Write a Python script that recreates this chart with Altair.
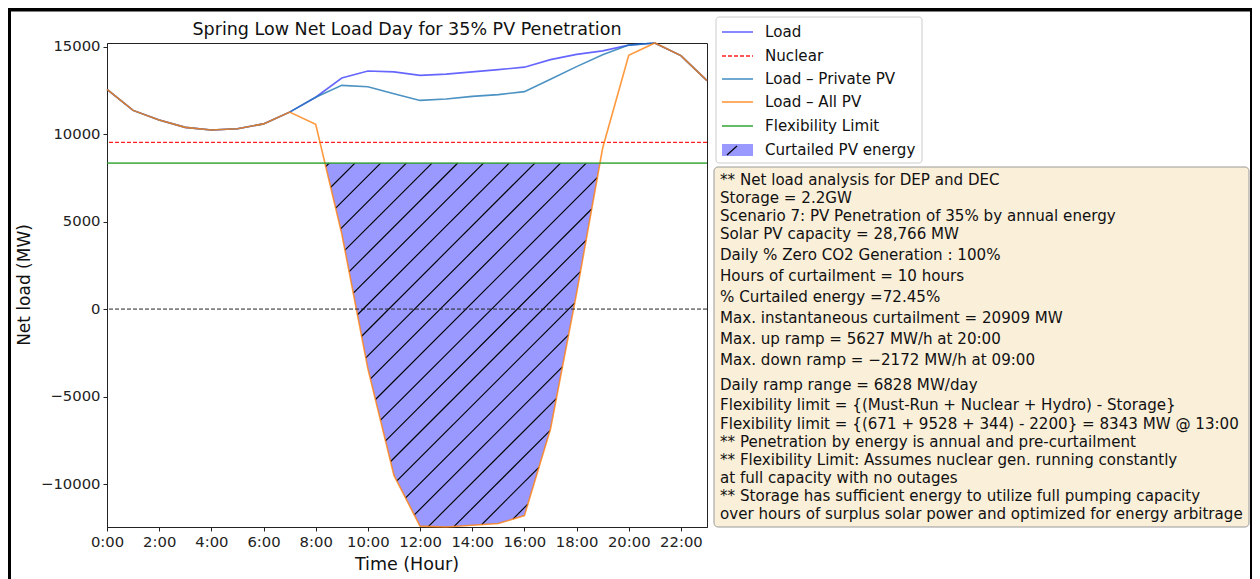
import altair as alt
import numpy as np
import pandas as pd

# ---------------- data ----------------
hours = list(range(24))
load = [12550, 11350, 10800, 10380, 10230, 10300, 10580, 11250, 12100, 13200, 13600, 13550,
        13350, 13420, 13550, 13680, 13820, 14250, 14550, 14750, 15080, 15200, 14480, 13050]
load_private_pv = [12550, 11350, 10800, 10380, 10230, 10300, 10580, 11250, 12100, 12780, 12700, 12300,
                   11920, 12000, 12150, 12250, 12420, 13130, 13850, 14530, 15080, 15200, 14480, 13050]
load_all_pv = [12550, 11350, 10800, 10380, 10230, 10300, 10580, 11250, 10560, 4300, -3400, -9500,
               -12400, -12450, -12350, -12250, -11800, -6850, 900, 9200, 14500, 15200, 14480, 13050]
nuclear_mw = 9528
flex_limit_mw = 8343

x_ticks = list(range(0, 24, 2))
y_ticks = [-10000, -5000, 0, 5000, 10000, 15000]

chart_title = "Spring Low Net Load Day for 35% PV Penetration"
x_title = "Time (Hour)"
y_title = "Net load (MW)"
legend_labels = ["Load", "Nuclear", "Load \u2013 Private PV", "Load \u2013 All PV",
                 "Flexibility Limit", "Curtailed PV energy"]
info_lines = [
    "** Net load analysis for DEP and DEC",
    "Storage = 2.2GW",
    "Scenario 7: PV Penetration of 35% by annual energy",
    "Solar PV capacity = 28,766 MW",
    "Daily % Zero CO2 Generation : 100%",
    "Hours of curtailment = 10 hours",
    "% Curtailed energy =72.45%",
    "Max. instantaneous curtailment =  20909 MW",
    "Max. up ramp = 5627 MW/h at 20:00",
    "Max. down ramp = \u22122172 MW/h at 09:00",
    "Daily ramp range = 6828 MW/day",
    "Flexibility limit = {(Must-Run + Nuclear + Hydro) - Storage}",
    "Flexibility limit = {(671 + 9528 + 344) - 2200} = 8343 MW @ 13:00",
    "** Penetration by energy is annual and pre-curtailment",
    "** Flexibility Limit: Assumes nuclear gen. running constantly",
    "at full capacity with no outages",
    "** Storage has sufficient energy to utilize full pumping capacity",
    "\u00a0over hours of surplus solar power and optimized for energy arbitrage",
]

# ---------------- layout / style ----------------
W, H = 600, 484
FONT = "DejaVu Sans"
C_LOAD, C_PRIV, C_ALL, C_FLEX, C_NUC = "#0000ff", "#1f77b4", "#ff7f0e", "#2ca02c", "#ff2020"
FILL = "#9999ff"
HATCH_C0, HATCH_STEP = 368.0, 25.7
info_y = [137, 155, 173, 191, 212, 233, 254, 275, 296, 317, 342, 362, 381, 399, 417, 435, 453, 471]
legend_y = [-11, 13, 36, 59, 83, 107]
TXT = 15.1

y_lo, y_hi = min(load_all_pv), max(load)
sx = W / 23.0
sy = H / (y_hi - y_lo)

xs = alt.Scale(domain=[0, 23], nice=False, zero=False)
ys = alt.Scale(domain=[y_lo, y_hi], nice=False, zero=False)

df = pd.DataFrame({"h": hours, "load": load, "priv": load_private_pv, "all": load_all_pv})

# curtailed region (orange below flexibility limit)
def crossing(i0, i1):
    a, b = load_all_pv[i0], load_all_pv[i1]
    return hours[i0] + (a - flex_limit_mw) / (a - b) * (hours[i1] - hours[i0])

below = [i for i, v in enumerate(load_all_pv) if v < flex_limit_mw]
c1 = crossing(below[0] - 1, below[0])
c2 = crossing(below[-1], below[-1] + 1)
fill_h = [c1] + [hours[i] for i in below] + [c2]
fill_v = [flex_limit_mw] + [load_all_pv[i] for i in below] + [flex_limit_mw]
df_fill = pd.DataFrame({"h": fill_h, "v": fill_v, "top": flex_limit_mw})

# hatch lines clipped to the curtailed region
hs = np.linspace(c1, c2, 8001)
ov = np.interp(hs, hours, load_all_pv)
rows = []
for k in range(-80, 80):
    c = HATCH_C0 + k * HATCH_STEP
    v = y_hi - (c - hs * sx) / sy
    inside = (v >= ov) & (v <= flex_limit_mw)
    if not inside.any():
        continue
    idx = np.flatnonzero(inside)
    br = np.flatnonzero(np.diff(idx) > 1)
    starts = np.r_[idx[0], idx[br + 1]]
    ends = np.r_[idx[br], idx[-1]]
    for s, e in zip(starts, ends):
        if e > s:
            rows.append({"h1": hs[s], "v1": v[s], "h2": hs[e], "v2": v[e]})
df_hatch = pd.DataFrame(rows)

base = alt.Chart(df)

area = alt.Chart(df_fill).mark_area(color=FILL, opacity=1, interpolate="linear").encode(
    x=alt.X("h:Q", scale=xs, title=None,
            axis=alt.Axis(values=x_ticks, labelExpr="datum.value + ':00'", labelFlush=False)),
    y=alt.Y("v:Q", scale=ys, title=None,
            axis=alt.Axis(values=y_ticks, format="d", labelFlush=False,
                          labelExpr="replace(datum.label, '-', '\u2212')")),
    y2="top:Q",
)
hatch = alt.Chart(df_hatch).mark_rule(color="#000000", strokeWidth=1.15).encode(
    x=alt.X("h1:Q", scale=xs), x2="h2:Q",
    y=alt.Y("v1:Q", scale=ys), y2="v2:Q",
)

def line(field, color, opacity, width=1.6):
    return base.mark_line(color=color, strokeWidth=width, opacity=opacity).encode(
        x=alt.X("h:Q", scale=xs), y=alt.Y(f"{field}:Q", scale=ys))

hline_df = pd.DataFrame({"v": [nuclear_mw], "f": [flex_limit_mw], "z": [0]})
nuc = alt.Chart(hline_df).mark_rule(color=C_NUC, strokeWidth=1.3, strokeDash=[4, 2]).encode(
    y=alt.Y("v:Q", scale=ys))
flex = alt.Chart(hline_df).mark_rule(color=C_FLEX, strokeWidth=1.8, opacity=0.8).encode(
    y=alt.Y("f:Q", scale=ys))
zero = alt.Chart(hline_df).mark_rule(color="#222222", strokeWidth=1, strokeDash=[4, 2]).encode(
    y=alt.Y("z:Q", scale=ys))

one = alt.Chart(pd.DataFrame({"k": [0]}))

def txt(s, x, y, size=TXT, align="left", angle=0, color="#111111"):
    kw = dict(align=align, baseline="middle", font=FONT, fontSize=size, color=color)
    if angle:
        kw["angle"] = angle
    return one.mark_text(**kw).encode(x=alt.value(x), y=alt.value(y), text=alt.value(s))

def rect(x, x2, y, y2, **kw):
    return one.mark_rect(**kw).encode(x=alt.value(x), x2=alt.value(x2), y=alt.value(y), y2=alt.value(y2))

def seg(x, x2, y, y2, **kw):
    return one.mark_rule(**kw).encode(x=alt.value(x), x2=alt.value(x2), y=alt.value(y), y2=alt.value(y2))

annots = [
    txt(chart_title, W / 2, -13, size=17.5, align="center"),
    txt(x_title, W / 2, 522, size=17.5, align="center"),
    txt(y_title, -82, H / 2, size=17, align="center", angle=270),
    # legend
    rect(609, 815, -26, 120, fill="white", stroke="#cccccc", strokeWidth=1, cornerRadius=3),
    seg(615, 646, legend_y[0], legend_y[0], color=C_LOAD, strokeWidth=1.6, opacity=0.6),
    seg(615, 646, legend_y[1], legend_y[1], color=C_NUC, strokeWidth=1.3, strokeDash=[4, 2]),
    seg(615, 646, legend_y[2], legend_y[2], color=C_PRIV, strokeWidth=1.6, opacity=0.8),
    seg(615, 646, legend_y[3], legend_y[3], color=C_ALL, strokeWidth=1.6, opacity=0.8),
    seg(615, 646, legend_y[4], legend_y[4], color=C_FLEX, strokeWidth=1.8, opacity=0.8),
    rect(615, 646, legend_y[5] - 6, legend_y[5] + 6, fill=FILL),
    seg(620, 630, legend_y[5] + 5, legend_y[5] - 4, color="#000000", strokeWidth=1.15),
    # info box
    rect(607, 1142, 124, 484, fill="#faefd9", stroke="#999999", strokeWidth=1, cornerRadius=4),
    # screenshot frame
    rect(-99, 1145, -35, -31.5, fill="black"),
    rect(-99, -96, -35, 536, fill="black"),
    rect(1143, 1145, -35, 536, fill="black"),
]
for i, lab in enumerate(legend_labels):
    annots.append(txt(lab, 658, legend_y[i]))
for s, yy in zip(info_lines, info_y):
    annots.append(txt(s, 613, yy))

chart = alt.layer(
    area, hatch,
    line("load", C_LOAD, 0.6),
    nuc,
    line("priv", C_PRIV, 0.8),
    line("all", C_ALL, 0.8),
    flex, zero,
    *annots,
).properties(
    width=W, height=H,
    padding={"left": 99, "top": 35, "right": 545, "bottom": 52},
    autosize=alt.AutoSizeParams(type="none"),
).configure_view(
    stroke="#222222", strokeWidth=1
).configure_axis(
    grid=False, labelFont=FONT, labelFontSize=14.8, labelColor="#222222",
    tickColor="#222222", domainColor="#222222", tickSize=4, labelPadding=3,
    domainWidth=1, tickWidth=1,
)

chart.save("out.html", embed_options={"renderer": "svg", "actions": False})
